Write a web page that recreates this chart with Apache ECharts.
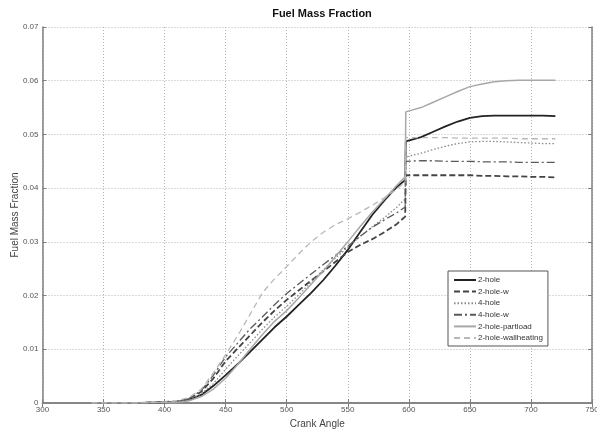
<!DOCTYPE html>
<html>
<head>
<meta charset="utf-8">
<script src="https://cdn.jsdelivr.net/npm/echarts@6/dist/echarts.min.js"></script>
<style>html,body{margin:0;padding:0;background:#fff}#c{width:597px;height:430px}</style>
</head>
<body>
<div id="c"></div>
<script>
const seriesNames = ['2-hole','2-hole-w','4-hole','4-hole-w','2-hole-partload','2-hole-wallheating'];
const xTicks = [300,350,400,450,500,550,600,650,700,750];
const yTicks = [0,0.01,0.02,0.03,0.04,0.05,0.06,0.07];

const angles = [340,380,400,410,420,430,440,450,460,470,480,490,500,510,520,530,540,550,560,570,580,590,597,597.5,610,620,630,640,650,660,670,680,690,700,710,720];

const hole2 =          [0,0,0.0001,0.0002,0.0006,0.0015,0.0032,0.0052,0.0073,0.0095,0.0118,0.0141,0.0161,0.0183,0.0205,0.0229,0.0256,0.0285,0.0318,0.0350,0.0377,0.0402,0.0415,0.0487,0.0495,0.0505,0.0515,0.0524,0.0531,0.0534,0.0535,0.0535,0.0535,0.0535,0.0535,0.0534];
const hole2w =         [0,0,0.0002,0.0003,0.0008,0.0021,0.0046,0.0078,0.0102,0.0126,0.0150,0.0172,0.0192,0.0210,0.0228,0.0245,0.0263,0.0281,0.0294,0.0305,0.0318,0.0333,0.0347,0.0424,0.0424,0.0424,0.0424,0.0424,0.0424,0.0423,0.0423,0.0422,0.0422,0.0421,0.0421,0.0420];
const hole4 =          [0,0,0.0001,0.0002,0.0006,0.0017,0.0036,0.0063,0.0088,0.0112,0.0137,0.0160,0.0180,0.0202,0.0225,0.0248,0.0270,0.0290,0.0310,0.0328,0.0345,0.0364,0.0380,0.0458,0.0465,0.0472,0.0478,0.0483,0.0486,0.0487,0.0487,0.0486,0.0485,0.0484,0.0483,0.0483];
const hole4w =         [0,0,0.0002,0.0003,0.0008,0.0023,0.0052,0.0086,0.0112,0.0138,0.0160,0.0183,0.0204,0.0222,0.0240,0.0258,0.0275,0.0292,0.0310,0.0327,0.0341,0.0354,0.0365,0.0450,0.0451,0.0451,0.0450,0.0450,0.0450,0.0449,0.0449,0.0449,0.0448,0.0448,0.0448,0.0448];
const partload =       [0,0,0.0001,0.0001,0.0004,0.0012,0.0026,0.0046,0.0072,0.0100,0.0127,0.0152,0.0172,0.0196,0.0221,0.0246,0.0273,0.0300,0.0328,0.0355,0.0380,0.0405,0.0421,0.0542,0.0550,0.0560,0.0570,0.0580,0.0589,0.0594,0.0598,0.0600,0.0601,0.0601,0.0601,0.0601];
const wallheating =    [0,0,0.0002,0.0004,0.0010,0.0026,0.0056,0.0090,0.0126,0.0165,0.0205,0.0231,0.0254,0.0278,0.0300,0.0318,0.0332,0.0343,0.0355,0.0368,0.0382,0.0398,0.0412,0.0494,0.0494,0.0494,0.0494,0.0493,0.0493,0.0493,0.0493,0.0493,0.0492,0.0492,0.0492,0.0492];

const values = [hole2, hole2w, hole4, hole4w, partload, wallheating];
const colors = ['#222222','#444444','#8a8a8a','#5a5a5a','#a8a8a8','#b8b8b8'];
const dashes = ['solid',[6,3],[1.5,2],[8,3,2,3],'solid',[6,4]];
const widths = [1.8,1.8,1.3,1.3,1.5,1.3];

const chart = echarts.init(document.getElementById('c'), null, {renderer:'canvas'});
const font = 'Arial, "Liberation Sans", sans-serif';
const gridLine = {show:true, lineStyle:{color:'#b5b5b5', type:[1,2], width:1}};
const axisLineS = {show:true, lineStyle:{color:'#808080', width:1.5}};

chart.setOption({
  animation:false,
  backgroundColor:'#fff',
  title:{text:'Fuel Mass Fraction', left:317, top:3, textAlign:'center',
    textStyle:{fontFamily:font, fontSize:11, fontWeight:'bold', color:'#111'}},
  grid:{left:42.5, right:5, top:27, bottom:27, containLabel:false, outerBoundsMode:'none'},
  legend:{
    orient:'vertical', left:448, top:271,
    itemWidth:22, itemHeight:9, itemGap:3.6,
    padding:[5,5,4,5],
    borderColor:'#555', borderWidth:1, backgroundColor:'#fff',
    itemStyle:{opacity:0},
    textStyle:{fontFamily:font, fontSize:8, color:'#333', padding:[0,0,0,-3]},
    data: seriesNames
  },
  xAxis:[{
    type:'value', min:xTicks[0], max:xTicks[xTicks.length-1], interval:50,
    name:'Crank Angle', nameLocation:'middle', nameGap:16, nameMoveOverlap:false,
    nameTextStyle:{fontFamily:font, fontSize:10, color:'#444'},
    axisLine:axisLineS, axisTick:{show:true, inside:true, length:4, lineStyle:{color:'#808080'}},
    axisLabel:{fontFamily:font, fontSize:8, color:'#555', margin:3},
    splitLine:gridLine
  },{
    type:'value', position:'top', min:xTicks[0], max:xTicks[xTicks.length-1], interval:50,
    axisLine:axisLineS, axisTick:{show:true, inside:true, length:4, lineStyle:{color:'#808080'}},
    axisLabel:{show:false}, splitLine:{show:false}
  }],
  yAxis:[{
    type:'value', min:yTicks[0], max:yTicks[yTicks.length-1], interval:0.01,
    name:'Fuel Mass Fraction', nameLocation:'middle', nameGap:22, nameMoveOverlap:false,
    nameTextStyle:{fontFamily:font, fontSize:10, color:'#444'},
    axisLine:axisLineS, axisTick:{show:true, inside:true, length:4, lineStyle:{color:'#808080'}},
    axisLabel:{fontFamily:font, fontSize:8, color:'#555', margin:4,
      formatter:v=>v===0?'0':v.toFixed(2)},
    splitLine:gridLine
  },{
    type:'value', position:'right', min:yTicks[0], max:yTicks[yTicks.length-1], interval:0.01,
    axisLine:axisLineS, axisTick:{show:true, inside:true, length:4, lineStyle:{color:'#808080'}},
    axisLabel:{show:false}, splitLine:{show:false}
  }],
  series: seriesNames.map((n,i)=>({
    name:n, type:'line', symbol:'none', showSymbol:false, smooth:false,
    xAxisIndex:0, yAxisIndex:0,
    color:colors[i],
    lineStyle:{color:colors[i], width:widths[i], type:dashes[i]},
    data: angles.map((a,k)=>[a, values[i][k]])
  }))
});
</script>
</body>
</html>
